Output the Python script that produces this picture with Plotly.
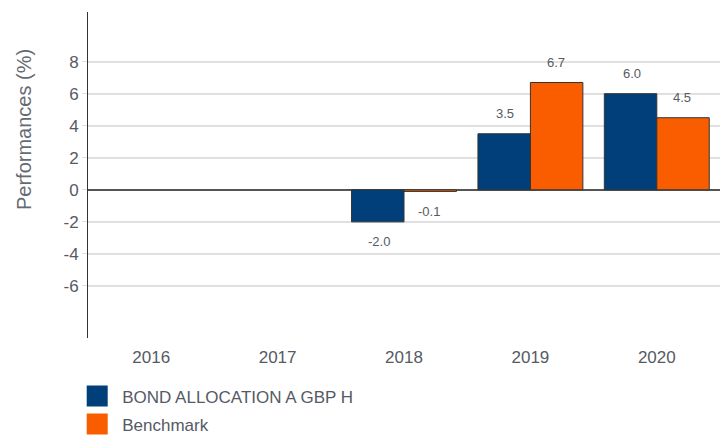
import plotly.graph_objects as go

years = ["2016", "2017", "2018", "2019", "2020"]
fund = [None, None, -2.0, 3.5, 6.0]
bench = [None, None, -0.1, 6.7, 4.5]
ytick_vals = [-6, -4, -2, 0, 2, 4, 6, 8]
fund_name = "BOND ALLOCATION A GBP H"
bench_name = "Benchmark"
y_title = "Performances (%)"
blue = "#003F7A"
orange = "#F95D00"

fig = go.Figure()
fig.add_trace(go.Bar(x=years, y=fund, name=fund_name, marker=dict(color=blue, line=dict(color="#333333", width=1)), showlegend=False))
fig.add_trace(go.Bar(x=years, y=bench, name=bench_name, marker=dict(color=orange, line=dict(color="#333333", width=1)), showlegend=False))
# legend proxies
fig.add_trace(go.Scatter(x=[None], y=[None], mode="markers", name=fund_name, legendgroup="a",
                         marker=dict(symbol="square", size=16, color=blue, line=dict(color=blue, width=5))))
fig.add_trace(go.Scatter(x=[None], y=[None], mode="markers", name=bench_name, legendgroup="b",
                         marker=dict(symbol="square", size=16, color=orange, line=dict(color=orange, width=5))))

for i, (f, b) in enumerate(zip(fund, bench)):
    for v, off in ((f, -0.2), (b, 0.2)):
        if v is None:
            continue
        fig.add_annotation(x=i + off, y=v, text=f"{v:.1f}", showarrow=False,
                           yshift=20 if v >= 0 else -20,
                           font=dict(size=13, color="#555a64"))

fig.add_annotation(xref="paper", yref="paper", x=0, y=0.638, xshift=-64, xanchor="center", yanchor="middle",
                   text=y_title, textangle=-90, showarrow=False, font=dict(size=20, color="#666a72"))

fig.update_layout(
    width=722, height=436,
    margin=dict(l=88, r=2, t=12, b=98, autoexpand=False),
    paper_bgcolor="white", plot_bgcolor="white",
    barmode="group", bargap=0.17, bargroupgap=0,
    font=dict(family="Liberation Sans, Arial, sans-serif", color="#555a64"),
    legend=dict(x=-0.025, y=-0.124, xanchor="left", yanchor="top", font=dict(size=17, color="#555a64"),
                tracegroupgap=3, itemsizing="trace", itemwidth=40),
    xaxis=dict(type="category", showgrid=False, showline=False, ticks="", automargin=False,
               ticklabelstandoff=7, tickfont=dict(size=17, color="#555a64")),
    yaxis=dict(range=[-9.25, 11.1], tickvals=ytick_vals, ticktext=[str(v) for v in ytick_vals],
               automargin=False,
               showgrid=True, gridcolor="#E0E0E0", gridwidth=1.5,
               zeroline=True, zerolinecolor="#555555", zerolinewidth=1.5,
               showline=True, linecolor="#333333", linewidth=1,
               ticks="outside", ticklen=5, tickcolor="#E0E0E0",
               tickfont=dict(size=17, color="#555a64")),
)
fig.write_html("out.html", config={"displayModeBar": False},
               post_script="document.body.style.margin='0';document.body.style.overflow='hidden';")
